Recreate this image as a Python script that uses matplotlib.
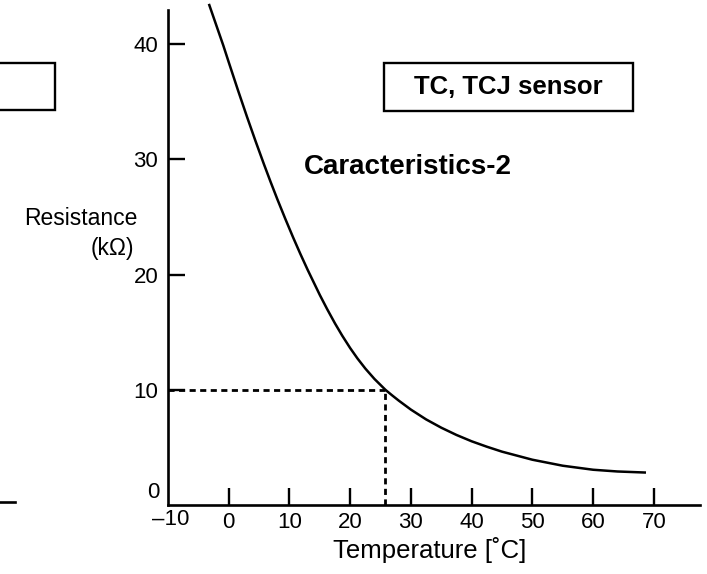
import matplotlib
matplotlib.use("Agg")
import matplotlib.pyplot as plt
from matplotlib.patches import Rectangle
from matplotlib.lines import Line2D
from matplotlib.transforms import offset_copy

plt.rcParams['font.family'] = ['Liberation Sans', 'DejaVu Sans']

# Thermistor resistance curve (kΩ) versus temperature (°C)
temperature = [-3.2, -0.9, 0.0, 1.5, 3.0, 4.4, 5.8, 6.9, 8.0, 9.3, 10.6,
               11.8, 13.0, 15.0, 16.2, 17.5, 18.7, 20.0, 21.2, 22.5, 24.0,
               25.8, 26.9, 28.0, 30.0, 32.5, 35.0, 37.5, 40.0, 42.5, 45.0,
               50.0, 55.0, 60.0, 64.0, 68.5]
resistance = [43.4, 39.9, 38.44, 36.04, 33.71, 31.61, 29.58, 28.04, 26.55,
              24.86, 23.23, 21.79, 20.41, 18.23, 17.01, 15.76, 14.69, 13.62,
              12.72, 11.84, 10.94, 10.0, 9.52, 9.06, 8.28, 7.43, 6.71, 6.08,
              5.53, 5.06, 4.63, 3.93, 3.41, 3.06, 2.91, 2.82]

# Reference point: 10 kΩ nominal
ref_temperature = 25.8
ref_resistance = 10.0

x_ticks = [0, 10, 20, 30, 40, 50, 60, 70]
x_tick_labels = ["0", "10", "20", "30", "40", "50", "60", "70"]
x_origin_label = "\u201310"
y_ticks = [10, 20, 30, 40]
y_tick_labels = ["10", "20", "30", "40"]
y_origin_label = "0"

W, H = 707, 574
fig = plt.figure(figsize=(W / 100, H / 100), dpi=100)


def fx(px):
    return px / W


def fy(py):
    return 1 - py / H


ax = fig.add_axes([fx(168), fy(505), fx(700) - fx(168), fy(10) - fy(505)])
ax.set_xlim(-10, 77.6)
ax.set_ylim(0, 42.97)

ax.plot(temperature, resistance, color="black", lw=1.8, clip_on=False,
        solid_joinstyle="round")
ax.plot([-10, ref_temperature], [ref_resistance, ref_resistance], color="black",
        lw=2.0, dashes=(2.2, 1.6))
ax.plot([ref_temperature, ref_temperature], [0, ref_resistance], color="black",
        lw=2.0, dashes=(2.2, 1.6))

for s in ("top", "right"):
    ax.spines[s].set_visible(False)
for s in ("left", "bottom"):
    ax.spines[s].set_linewidth(1.9)

ax.set_xticks(x_ticks)
ax.set_xticklabels(x_tick_labels)
ax.set_yticks(y_ticks)
ax.set_yticklabels(y_tick_labels)
ax.tick_params(axis="both", direction="in", length=12, width=1.7,
               labelsize=16)
ax.tick_params(axis="x", pad=5)
ax.tick_params(axis="y", pad=7)

# Origin labels sit a little off the corner
ax.text(-10, 0, x_origin_label, ha="center", va="top", fontsize=16,
        transform=offset_copy(ax.transData, fig=fig, x=3, y=-4, units="dots"))
ax.text(-10, 0, y_origin_label, ha="right", va="center", fontsize=16,
        transform=offset_copy(ax.transData, fig=fig, x=-9, y=12, units="dots"))

fig.text(fx(430), fy(550), "Temperature [\u02daC]", ha="center", va="center",
         fontsize=18.5)
fig.text(fx(138), fy(225), "Resistance", ha="right", va="baseline",
         fontsize=16.5)
fig.text(fx(134), fy(255), "(k\u03a9)", ha="right", va="baseline",
         fontsize=16.5)

fig.text(fx(408), fy(167), "Caracteristics-2", ha="center", va="center",
         fontsize=20, fontweight="bold")

fig.patches.append(Rectangle((fx(384), fy(111)), fx(633) - fx(384),
                             fy(63) - fy(111), transform=fig.transFigure,
                             fill=False, lw=1.7, ec="black"))
fig.text(fx(508), fy(87), "TC, TCJ sensor", ha="center", va="center",
         fontsize=18.5, fontweight="bold")

# Adjacent panel edges
fig.patches.append(Rectangle((fx(-10), fy(110)), fx(55) - fx(-10),
                             fy(63) - fy(110), transform=fig.transFigure,
                             fill=False, lw=1.7, ec="black"))
fig.lines.append(Line2D([fx(0), fx(15)], [fy(502), fy(502)],
                        transform=fig.transFigure, color="black", lw=1.9))

fig.savefig("out.png", dpi=100)
